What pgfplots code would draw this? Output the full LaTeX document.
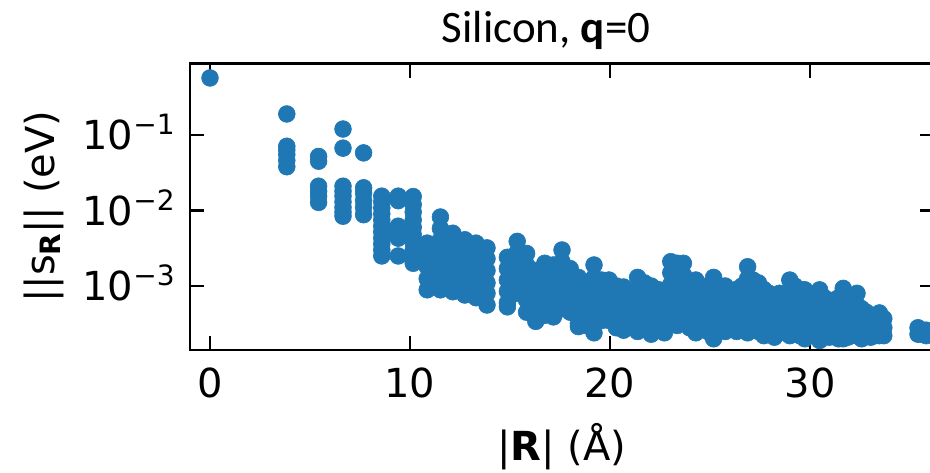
\documentclass[border=0pt]{standalone}
\usepackage{fontspec}
\setmainfont{DejaVu Sans}
\newfontfamily\carlito{Carlito}
\usepackage{pgfplots}
\pgfplotsset{compat=1.18}
\definecolor{tabblue}{RGB}{31,119,180}
\newcommand\pw[1]{10\smash{\raisebox{7.5pt}{\fontsize{14}{14}\selectfont −#1}}}
\begin{document}
\begin{tikzpicture}
\begin{axis}[
  scale only axis, width=372pt, height=143.25pt,
  at={(0,0)}, anchor=south west,
  ymode=log, xmin=-1, xmax=36.2, ymin=1.42e-4, ymax=0.885,
  xtick={0,10,20,30}, ytick={1e-3,1e-2,1e-1},
  yticklabels={\pw{3},\pw{2},\pw{1}},
  yminorticks=false, xminorticks=false,
  tick align=inside, major tick length=7pt,
  axis line style={line width=1.4pt},
  every tick/.style={black, line width=1.4pt},
  tick label style={font=\fontsize{20}{24}\selectfont, inner sep=0pt},
  xticklabel shift=8.5pt, yticklabel shift=7.5pt,
  /pgf/number format/assume math mode=true,
  xlabel={|\textbf{R}| (Å)},
  ylabel={||s\raisebox{-3pt}{\fontsize{14}{14}\selectfont\bfseries R}|| (eV)},
  xlabel style={at={(axis description cs:0.5,-0.384)}, anchor=base, font=\fontsize{20}{24}\selectfont},
  ylabel style={at={(axis description cs:-0.1815,0.5)}, anchor=base, font=\fontsize{20}{24}\selectfont},
]
\addplot[only marks, mark=*, mark size=4.2pt, mark options={fill=tabblue, draw=tabblue, line width=0.3pt}] coordinates {
(0,0.57)
(3.84,0.19) (3.84,0.071) (3.84,0.063) (3.84,0.055) (3.84,0.046) (3.84,0.038)
(5.43,0.052) (5.43,0.045) (5.43,0.021) (5.43,0.018) (5.43,0.0155) (5.43,0.0128)
(6.65,0.12) (6.65,0.067) (6.65,0.021) (6.65,0.018) (6.65,0.0155) (6.65,0.013) (6.65,0.011) (6.65,0.0095) (6.65,0.0084)
(7.68,0.058) (7.68,0.020) (7.68,0.017) (7.68,0.0135) (7.68,0.011) (7.68,0.0088)
(8.59,0.0155) (8.59,0.013) (8.59,0.0108) (8.59,0.009) (8.59,0.0075) (8.59,0.0062) (8.59,0.0052) (8.59,0.0043) (8.59,0.0036) (8.59,0.003) (8.59,0.0025)
(9.41,0.0155) (9.41,0.0135) (9.41,0.0062) (9.41,0.0052) (9.41,0.0043) (9.41,0.0025)
(10.16,0.0153) (10.16,0.012) (10.16,0.0095) (10.16,0.0075) (10.16,0.006) (10.16,0.0048) (10.16,0.0038) (10.16,0.003) (10.16,0.0024) (10.16,0.002)
(10.86,0.0037) (10.86,0.0026) (10.86,0.0018) (10.86,0.00125) (10.86,0.00089)
(11.52,0.0082) (11.52,0.0058) (11.52,0.0041) (11.52,0.0029) (11.52,0.002) (11.52,0.0014) (11.52,0.001) (11.52,0.00089)
(12.14,0.005) (12.14,0.0035) (12.14,0.0025) (12.14,0.0018) (12.14,0.00125) (12.14,0.00084)
(12.74,0.0041) (12.74,0.0029) (12.74,0.002) (12.74,0.0014) (12.74,0.001) (12.74,0.00076)
(13.30,0.0037) (13.30,0.0026) (13.30,0.0018) (13.30,0.00125) (13.30,0.0009) (13.30,0.0007)
(13.85,0.0032) (13.85,0.0023) (13.85,0.0016) (13.85,0.0011) (13.85,0.0008) (13.85,0.00056)
(14.87,0.0024) (14.87,0.0017) (14.87,0.0012) (14.87,0.00085) (14.87,0.0006) (14.87,0.00053)
(15.36,0.0039) (15.36,0.0028) (15.36,0.002) (15.36,0.0014) (15.36,0.001) (15.36,0.0008)
(15.83,0.0027) (15.83,0.0019) (15.83,0.00135) (15.83,0.00095) (15.83,0.00065) (15.83,0.00045)
(16.29,0.0016) (16.29,0.0011) (16.29,0.0008) (16.29,0.00055) (16.29,0.00034)
(16.74,0.002) (16.74,0.0014) (16.74,0.001) (16.74,0.0007) (16.74,0.0005) (16.74,0.00041)
(17.17,0.0019) (17.17,0.0013) (17.17,0.0009) (17.17,0.00065) (17.17,0.00045) (17.17,0.00039)
(17.60,0.003) (17.60,0.0021) (17.60,0.0015) (17.60,0.00105) (17.60,0.00075) (17.60,0.0005)
(18.01,0.0017) (18.01,0.0012) (18.01,0.00085) (18.01,0.0006) (18.01,0.00045)
(18.42,0.0013) (18.42,0.0009) (18.42,0.00065) (18.42,0.00045) (18.42,0.00032) (18.42,0.00029)
(18.81,0.0011) (18.81,0.0008) (18.81,0.00056) (18.81,0.0004) (18.81,0.0003)
(19.20,0.0019) (19.20,0.0013) (19.20,0.0009) (19.20,0.00065) (19.20,0.00045) (19.20,0.00032) (19.20,0.00024)
(19.58,0.0012) (19.58,0.00085) (19.58,0.0006) (19.58,0.00042) (19.58,0.00035)
(19.95,0.0012) (19.95,0.00085) (19.95,0.0006) (19.95,0.00042) (19.95,0.00035)
(20.32,0.001) (20.32,0.0007) (20.32,0.0005) (20.32,0.00035) (20.32,0.00028)
(20.68,0.00097) (20.68,0.0007) (20.68,0.0005) (20.68,0.00035) (20.68,0.00026)
(21.38,0.0013) (21.38,0.0009) (21.38,0.00065) (21.38,0.00045) (21.38,0.00032) (21.38,0.00025)
(21.72,0.0011) (21.72,0.0008) (21.72,0.00056) (21.72,0.0004) (21.72,0.0003)
(22.06,0.001) (22.06,0.0007) (22.06,0.0005) (22.06,0.00035) (22.06,0.00023)
(22.39,0.0009) (22.39,0.00065) (22.39,0.00045) (22.39,0.00032) (22.39,0.00028)
(22.72,0.00084) (22.72,0.0006) (22.72,0.00042) (22.72,0.0003) (22.72,0.00024)
(23.04,0.0021) (23.04,0.0015) (23.04,0.00105) (23.04,0.00075) (23.04,0.00053) (23.04,0.00038)
(23.36,0.002) (23.36,0.0014) (23.36,0.001) (23.36,0.0007) (23.36,0.0005) (23.36,0.00035) (23.36,0.0003)
(23.67,0.002) (23.67,0.0014) (23.67,0.001) (23.67,0.0007) (23.67,0.0005) (23.67,0.00035)
(23.98,0.0011) (23.98,0.0008) (23.98,0.00056) (23.98,0.0004) (23.98,0.00028)
(24.29,0.0012) (24.29,0.00085) (24.29,0.0006) (24.29,0.00042) (24.29,0.0003) (24.29,0.00024)
(24.59,0.001) (24.59,0.0007) (24.59,0.0005) (24.59,0.00035) (24.59,0.0003)
(24.89,0.0009) (24.89,0.00065) (24.89,0.00045) (24.89,0.00032) (24.89,0.00025)
(25.18,0.0013) (25.18,0.0009) (25.18,0.00065) (25.18,0.00045) (25.18,0.00032) (25.18,0.0002)
(25.47,0.001) (25.47,0.0007) (25.47,0.0005) (25.47,0.00035) (25.47,0.00028)
(25.76,0.001) (25.76,0.0007) (25.76,0.0005) (25.76,0.00035) (25.76,0.00025)
(26.33,0.0009) (26.33,0.00065) (26.33,0.00045) (26.33,0.00032) (26.33,0.00025)
(26.60,0.001) (26.60,0.0007) (26.60,0.0005) (26.60,0.00035) (26.60,0.00027)
(26.88,0.0018) (26.88,0.00125) (26.88,0.0009) (26.88,0.00063) (26.88,0.00045) (26.88,0.00032) (26.88,0.00024)
(27.15,0.0012) (27.15,0.00085) (27.15,0.0006) (27.15,0.00042) (27.15,0.00028)
(27.42,0.0011) (27.42,0.0008) (27.42,0.00056) (27.42,0.0004) (27.42,0.00025)
(27.69,0.0009) (27.69,0.00065) (27.69,0.00045) (27.69,0.00032) (27.69,0.00022)
(27.95,0.0008) (27.95,0.00056) (27.95,0.0004) (27.95,0.00025)
(28.22,0.0007) (28.22,0.0005) (28.22,0.00035) (28.22,0.00021)
(28.48,0.0008) (28.48,0.00056) (28.48,0.0004) (28.48,0.00024)
(28.99,0.0012) (28.99,0.00085) (28.99,0.0006) (28.99,0.00042) (28.99,0.0003) (28.99,0.00022)
(29.24,0.001) (29.24,0.0007) (29.24,0.0005) (29.24,0.00035) (29.24,0.00025)
(29.49,0.0009) (29.49,0.00065) (29.49,0.00045) (29.49,0.00032) (29.49,0.00022)
(29.74,0.00089) (29.74,0.00063) (29.74,0.00045) (29.74,0.00032) (29.74,0.0002)
(29.99,0.0007) (29.99,0.0005) (29.99,0.00035) (29.99,0.00022)
(30.48,0.00089) (30.48,0.00063) (30.48,0.00045) (30.48,0.00032) (30.48,0.00019)
(30.72,0.0007) (30.72,0.0005) (30.72,0.00035) (30.72,0.00022)
(30.96,0.0006) (30.96,0.00042) (30.96,0.0003) (30.96,0.00021)
(31.19,0.00065) (31.19,0.00045) (31.19,0.00032) (31.19,0.00022)
(31.43,0.0007) (31.43,0.0005) (31.43,0.00035) (31.43,0.0002)
(31.66,0.00093) (31.66,0.00065) (31.66,0.00045) (31.66,0.00032) (31.66,0.0002)
(31.89,0.0007) (31.89,0.0005) (31.89,0.00035) (31.89,0.00021)
(32.12,0.0006) (32.12,0.00042) (32.12,0.0003) (32.12,0.00022)
(32.35,0.0008) (32.35,0.00056) (32.35,0.0004) (32.35,0.00028) (32.35,0.00022)
(32.58,0.0005) (32.58,0.00035) (32.58,0.0002)
(32.81,0.00045) (32.81,0.00032) (32.81,0.00024)
(33.03,0.0004) (33.03,0.0003) (33.03,0.00021)
(33.25,0.0004) (33.25,0.0003) (33.25,0.00022)
(33.47,0.00044) (33.47,0.00032) (33.47,0.00022)
(33.69,0.00037) (33.69,0.00028) (33.69,0.00022)
(35.40,0.00028) (35.40,0.00023)
(35.61,0.00026) (35.61,0.00023)
(35.81,0.00026) (35.81,0.00022)
(36.02,0.00025)
};
\end{axis}
\node[anchor=base, font=\carlito\fontsize{22.5}{27}\selectfont] at (178pt,153.5pt) {Silicon, \textbf{q}=0};
\pgfresetboundingbox
\useasboundingbox (-95pt,-61pt) rectangle (370pt,175pt);
\end{tikzpicture}
\end{document}
